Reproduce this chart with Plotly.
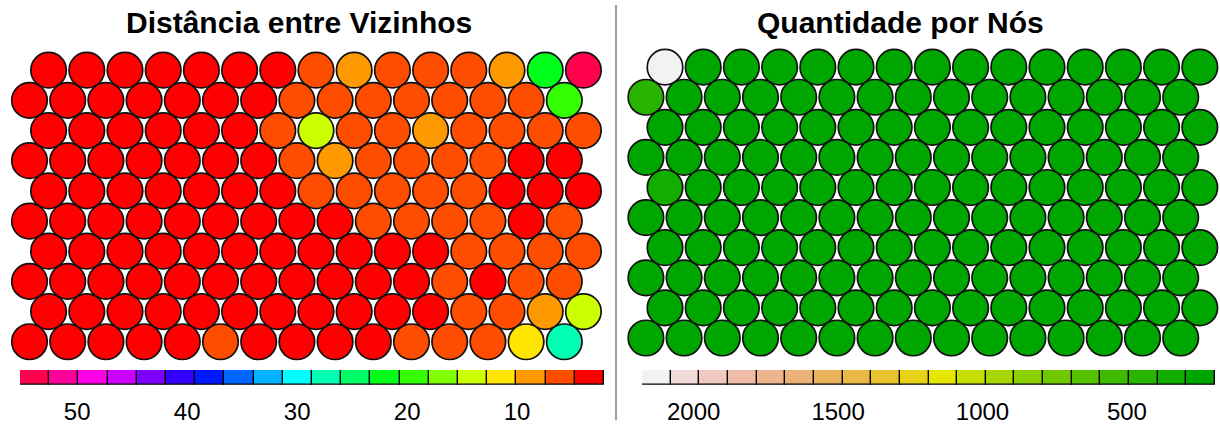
import colorsys
import plotly.graph_objects as go

# ---------------- DATA ----------------
left_title = "Distância entre Vizinhos"
right_title = "Quantidade por Nós"

# neighbour distance per node, rows listed top -> bottom, 15 columns each
dist_rows = [
    [3.1, 3.4, 3.0, 3.3, 3.6, 3.8, 4.2, 5.6, 8.4, 6.1, 5.9, 6.3, 8.9, 22.1, 55.2],
    [2.8, 3.0, 2.7, 3.1, 3.2, 3.9, 4.4, 5.8, 6.2, 5.7, 6.0, 6.4, 5.5, 6.6, 19.4],
    [2.6, 2.9, 3.2, 3.0, 3.5, 4.1, 5.2, 14.1, 5.9, 6.2, 8.1, 6.5, 5.8, 5.4, 6.0],
    [2.5, 2.7, 3.0, 3.3, 3.1, 3.6, 4.3, 5.4, 8.6, 5.9, 5.6, 5.3, 5.1, 4.5, 4.2],
    [2.4, 2.6, 2.9, 3.2, 3.4, 3.7, 4.5, 5.3, 5.7, 5.5, 5.2, 5.0, 4.4, 4.1, 4.6],
    [2.3, 2.5, 2.8, 3.0, 3.3, 3.5, 3.8, 4.2, 4.6, 5.1, 5.4, 5.6, 5.2, 4.3, 5.5],
    [2.2, 2.4, 2.6, 2.9, 3.1, 3.4, 3.7, 4.0, 4.3, 4.5, 4.65, 5.0, 5.3, 5.6, 5.8],
    [2.1, 2.3, 2.5, 2.8, 3.0, 3.3, 3.6, 3.9, 4.2, 4.4, 4.6, 4.9, 4.5, 5.2, 6.0],
    [2.2, 2.4, 2.7, 2.9, 3.2, 3.5, 3.8, 4.1, 4.4, 4.6, 4.65, 5.1, 6.3, 8.7, 13.9],
    [2.5, 2.7, 3.0, 3.4, 3.9, 5.1, 4.3, 4.0, 4.5, 4.6, 5.4, 5.9, 6.8, 11.2, 27.1],
]

# number of observations per node, rows listed top -> bottom
count_rows = [
    [2179, 262, 248, 255, 240, 236, 251, 244, 229, 238, 247, 233, 241, 252, 268],
    [410, 270, 245, 231, 239, 228, 242, 236, 230, 227, 235, 240, 246, 238, 255],
    [281, 243, 237, 226, 233, 221, 230, 225, 219, 224, 229, 234, 239, 244, 259],
    [264, 239, 231, 222, 218, 215, 223, 217, 213, 220, 226, 231, 236, 242, 249],
    [330, 241, 228, 219, 214, 211, 216, 210, 208, 214, 221, 227, 233, 238, 257],
    [258, 235, 224, 216, 209, 205, 212, 207, 203, 211, 218, 224, 230, 235, 246],
    [263, 238, 226, 218, 212, 207, 210, 204, 199, 206, 215, 222, 228, 237, 252],
    [256, 233, 222, 214, 208, 202, 206, 201, 195, 203, 212, 219, 226, 232, 244],
    [271, 240, 229, 221, 215, 209, 213, 208, 204, 210, 217, 225, 233, 241, 261],
    [284, 252, 238, 229, 224, 218, 221, 216, 213, 219, 227, 235, 243, 250, 266],
]

dist_min, dist_max = 2.1, 55.2
count_min, count_max = 195, 2179
dist_ticks = [50, 40, 30, 20, 10]
count_ticks = [2000, 1500, 1000, 500]
n_bins = 20

# ---------------- PALETTES ----------------
def to_hex(r, g, b):
    return "#%02X%02X%02X" % (int(r * 255 + 0.5), int(g * 255 + 0.5), int(b * 255 + 0.5))

def rainbow(n):
    return [to_hex(*colorsys.hsv_to_rgb(i / n, 1, 1)) for i in range(n)]

def seq(a, b, m):
    return [a + (b - a) * i / (m - 1) for i in range(m)]

def terrain(n):
    k = n // 2
    h1, s1, v1 = seq(4 / 12, 2 / 12, k), seq(1, 1, k), seq(0.65, 0.9, k)
    m = n - k + 1
    h2, s2, v2 = seq(2 / 12, 0, m)[1:], seq(1, 0, m)[1:], seq(0.9, 0.95, m)[1:]
    return [to_hex(*colorsys.hsv_to_rgb(h, s, v)) for h, s, v in zip(h1 + h2, s1 + s2, v1 + v2)]

pal_left = rainbow(n_bins)
pal_right = terrain(n_bins)

def step_scale(pal):
    n = len(pal)
    cs = []
    for i, c in enumerate(pal):
        cs.append([i / n, c])
        cs.append([(i + 1) / n, c])
    return cs

# ---------------- LAYOUT HELPERS ----------------
W, H = 1220, 425
FONT = "Liberation Sans, Arial, Helvetica, sans-serif"

def dom_x(a, b):
    return [a / W, b / W]

def dom_y(top, bottom):
    return [(H - bottom) / H, (H - top) / H]

def hex_xy(rows):
    xs, ys, vs = [], [], []
    nr = len(rows)
    for r, row in enumerate(rows):
        k = nr - 1 - r
        off = 0.5 if k % 2 == 1 else 0.0
        for c, v in enumerate(row):
            xs.append(c + off)
            ys.append(k)
            vs.append(v)
    return xs, ys, vs

fig = go.Figure()

# ---- map traces ----
for rows, pal, vmin, vmax, xa, ya in [
    (dist_rows, pal_left, dist_min, dist_max, "x", "y"),
    (count_rows, pal_right, count_min, count_max, "x2", "y2"),
]:
    xs, ys, vs = hex_xy(rows)
    fig.add_trace(go.Scatter(
        x=xs, y=ys, mode="markers", xaxis=xa, yaxis=ya,
        marker=dict(size=35.5, color=vs, colorscale=step_scale(pal), cmin=vmin, cmax=vmax,
                    line=dict(color="#111111", width=1.7), opacity=1),
        hovertemplate="%{marker.color}<extra></extra>", showlegend=False,
    ))

# ---- colour strips ----
for pal, vmin, vmax, xa, ya in [
    (pal_left, dist_min, dist_max, "x3", "y3"),
    (pal_right, count_min, count_max, "x4", "y4"),
]:
    w = (vmax - vmin) / n_bins
    centers = [vmin + w * (i + 0.5) for i in range(n_bins)]
    fig.add_trace(go.Bar(
        x=centers, y=[1] * n_bins, width=[w] * n_bins, base=0, xaxis=xa, yaxis=ya,
        marker=dict(color=pal, line=dict(color="#000000", width=1.4)),
        showlegend=False, hoverinfo="skip",
    ))

# map axes: pixel geometry -> ranges
sx = 38.2
lx0, ly0, lsy = 29.5, 345.8, 30.53   # left: x px of col 0 (non offset), y px of bottom row, row step
rx0, ry0, rsy = 645.9, 342.0, 30.45

def xr(d0, d1, x0):
    return [(d0 - x0) / sx, (d1 - x0) / sx]

def yr(y0, sy):
    return [(y0 - H) / sy, y0 / sy]

hidden = dict(showgrid=False, zeroline=False, showticklabels=False, ticks="", showline=False, fixedrange=True)

layout = dict(
    width=W, height=H, margin=dict(l=0, r=0, t=0, b=0),
    paper_bgcolor="white", plot_bgcolor="rgba(0,0,0,0)",
    font=dict(family=FONT, color="black"),
    bargap=0,
    xaxis=dict(domain=dom_x(0, 610), range=xr(0, 610, lx0), anchor="y", **hidden),
    yaxis=dict(domain=[0, 1], range=yr(ly0, lsy), anchor="x", **hidden),
    xaxis2=dict(domain=dom_x(620, 1220), range=xr(620, 1220, rx0), anchor="y2", **hidden),
    yaxis2=dict(domain=[0, 1], range=yr(ry0, rsy), anchor="x2", **hidden),
    xaxis3=dict(domain=dom_x(20, 604), range=[dist_max, dist_min], anchor="y3",
                showgrid=False, zeroline=False, showline=False, ticks="",
                tickvals=dist_ticks, ticktext=[str(t) for t in dist_ticks],
                tickfont=dict(size=24, family=FONT, color="black"), ticklabelstandoff=10),
    yaxis3=dict(domain=dom_y(374.3, 389.3), range=[0, 1], anchor="x3", **hidden),
    xaxis4=dict(domain=dom_x(642, 1215), range=[count_max, count_min], anchor="y4",
                showgrid=False, zeroline=False, showline=False, ticks="",
                tickvals=count_ticks, ticktext=[str(t) for t in count_ticks],
                tickfont=dict(size=24, family=FONT, color="black"), ticklabelstandoff=10),
    yaxis4=dict(domain=dom_y(374.3, 389.3), range=[0, 1], anchor="x4", **hidden),
    shapes=[dict(type="line", xref="paper", yref="paper", x0=616 / W, x1=616 / W,
                 y0=0, y1=(H - 5) / H, line=dict(color="#808080", width=1.5))],
    annotations=[
        dict(text="<b>%s</b>" % left_title, xref="paper", yref="paper", x=299 / W, y=(H - 23) / H,
             xanchor="center", yanchor="middle", showarrow=False, font=dict(size=30, family=FONT)),
        dict(text="<b>%s</b>" % right_title, xref="paper", yref="paper", x=900 / W, y=(H - 23) / H,
             xanchor="center", yanchor="middle", showarrow=False, font=dict(size=30, family=FONT)),
    ],
)
fig.update_layout(**layout)
fig.write_html(
    "out.html",
    config={"displayModeBar": False},
    post_script="document.body.style.margin='0';document.body.style.overflow='hidden';",
)
